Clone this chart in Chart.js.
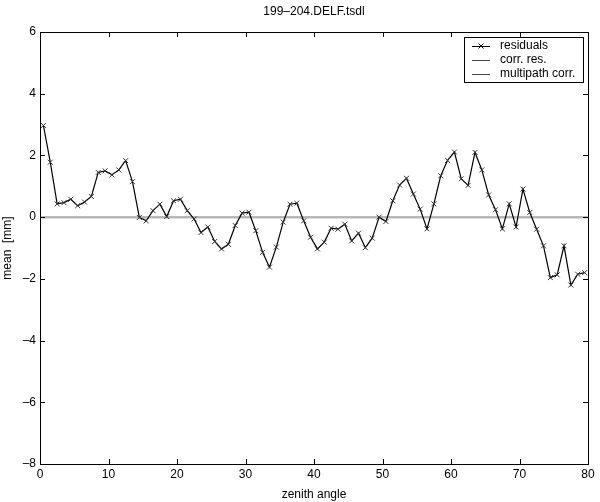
<!DOCTYPE html>
<html><head><meta charset="utf-8">
<script src="https://cdn.jsdelivr.net/npm/chart.js@4"></script>
<style>html,body{margin:0;padding:0;background:#fff;}#wrap{width:600px;height:502px;}</style>
</head><body><div id="wrap"><canvas id="c" width="600" height="502"></canvas></div>
<script>
const titleText = "199\u2013204.DELF.tsdl";
const xLabel = "zenith angle";
const yLabel = "mean  [mm]";
const legendLabels = ["residuals", "corr. res.", "multipath corr."];
const zenith = [];
for (let i = 0; i < 80; i++) zenith.push(i + 0.5);
const residuals = [2.97,1.78,0.43,0.47,0.58,0.37,0.49,0.67,1.45,1.50,
 1.37,1.53,1.83,1.15,-0.01,-0.12,0.21,0.42,0.02,0.53,
 0.58,0.21,-0.06,-0.50,-0.32,-0.79,-1.03,-0.88,-0.27,0.13,
 0.16,-0.44,-1.14,-1.62,-0.97,-0.16,0.42,0.45,-0.12,-0.65,
 -1.03,-0.81,-0.36,-0.39,-0.23,-0.77,-0.52,-0.99,-0.68,0.0,
 -0.14,0.53,1.04,1.26,0.75,0.26,-0.38,0.43,1.34,1.84,
 2.11,1.24,1.03,2.10,1.53,0.72,0.24,-0.38,0.43,-0.32,
 0.91,0.15,-0.39,-0.93,-1.96,-1.87,-0.93,-2.20,-1.85,-1.80];
const corrResX = [0, 80];
const corrResY = [0, 0];
const multipathX = [0, 80];
const multipathY = [0, 0];
const xTicks = [0,10,20,30,40,50,60,70,80];
const yTicks = [-8,-6,-4,-2,0,2,4,6];

const FONT = "Liberation Sans, Arial, Helvetica, sans-serif";
const fmt = v => (v < 0 ? "\u2013" + Math.abs(v) : String(v));

const decor = {
  id: 'decor',
  afterDraw(chart) {
    const ctx = chart.ctx, a = chart.chartArea;
    const xs = chart.scales.x, ys = chart.scales.y;
    ctx.save();
    ctx.strokeStyle = '#000'; ctx.lineWidth = 1;
    ctx.strokeRect(Math.round(a.left)+0.5, Math.round(a.top)+0.5, Math.round(a.right-a.left), Math.round(a.bottom-a.top));
    ctx.beginPath();
    xTicks.forEach(v => {
      const px = Math.round(xs.getPixelForValue(v)) + 0.5;
      ctx.moveTo(px, a.bottom); ctx.lineTo(px, a.bottom - 5);
      ctx.moveTo(px, a.top); ctx.lineTo(px, a.top + 5);
    });
    yTicks.forEach(v => {
      const py = Math.round(ys.getPixelForValue(v)) + 0.5;
      ctx.moveTo(a.left, py); ctx.lineTo(a.left + 5, py);
      ctx.moveTo(a.right, py); ctx.lineTo(a.right - 5, py);
    });
    ctx.stroke();
    ctx.fillStyle = '#000';
    ctx.font = '12px ' + FONT;
    ctx.textAlign = 'center'; ctx.textBaseline = 'middle';
    ctx.fillText(titleText, (a.left + a.right) / 2, 12);
    // legend
    const bx = 464, by = 37, bw = 119, bh = 45;
    ctx.fillStyle = '#fff';
    ctx.fillRect(bx, by, bw, bh);
    ctx.strokeStyle = '#000';
    ctx.strokeRect(bx + 0.5, by + 0.5, bw, bh);
    const rows = [46, 60, 74];
    ctx.textAlign = 'left'; ctx.textBaseline = 'middle';
    ctx.font = '12px ' + FONT;
    rows.forEach((ry, i) => {
      ctx.beginPath();
      ctx.strokeStyle = i === 0 ? '#000' : '#444';
      ctx.moveTo(bx + 8, ry + 0.5); ctx.lineTo(bx + 26, ry + 0.5);
      ctx.stroke();
      if (i === 0) {
        ctx.beginPath();
        ctx.moveTo(bx + 14.5, ry - 2.5); ctx.lineTo(bx + 19.5, ry + 2.5);
        ctx.moveTo(bx + 19.5, ry - 2.5); ctx.lineTo(bx + 14.5, ry + 2.5);
        ctx.stroke();
      }
      ctx.fillStyle = '#000';
      ctx.fillText(legendLabels[i], bx + 36, ry);
    });
    ctx.restore();
  }
};

new Chart(document.getElementById('c'), {
  type: 'line',
  data: {
    datasets: [
      { label: legendLabels[2], data: multipathX.map((x, i) => ({x, y: multipathY[i]})),
        borderColor: '#b4b4b4', borderWidth: 2, pointRadius: 0, order: 3 },
      { label: legendLabels[1], data: corrResX.map((x, i) => ({x, y: corrResY[i]})),
        borderColor: '#b4b4b4', borderWidth: 2, pointRadius: 0, order: 2 },
      { label: legendLabels[0], data: zenith.map((x, i) => ({x, y: residuals[i]})),
        borderColor: '#000', borderWidth: 1.2, pointStyle: 'crossRot', pointRadius: 3.5,
        pointBorderColor: '#333', pointBorderWidth: 1, tension: 0, order: 1 }
    ]
  },
  options: {
    responsive: false, animation: false, devicePixelRatio: 1,
    layout: { padding: { left: 0, right: 12, top: 32, bottom: 0 } },
    plugins: { legend: { display: false }, tooltip: { enabled: false }, title: { display: false } },
    scales: {
      x: { type: 'linear', min: 0, max: 80,
        afterFit(s) { s.height = 38; },
        afterBuildTicks(s) { s.ticks = xTicks.map(v => ({value: v})); },
        grid: { display: false, drawTicks: false },
        border: { display: false },
        ticks: { color: '#000', font: { family: FONT, size: 12 }, padding: 3, maxRotation: 0, callback: fmt },
        title: { display: true, text: xLabel, color: '#000', font: { family: FONT, size: 12 }, padding: { top: 2, bottom: 0 } }
      },
      y: { type: 'linear', min: -8, max: 6,
        afterFit(s) { s.width = 40; },
        afterBuildTicks(s) { s.ticks = yTicks.map(v => ({value: v})); },
        grid: { display: false, drawTicks: false },
        border: { display: false },
        ticks: { color: '#000', font: { family: FONT, size: 12 }, padding: 4, callback: fmt },
        title: { display: true, text: yLabel, color: '#000', font: { family: FONT, size: 12 }, padding: { top: 0, bottom: 2 } }
      }
    }
  },
  plugins: [decor]
});
</script></body></html>
